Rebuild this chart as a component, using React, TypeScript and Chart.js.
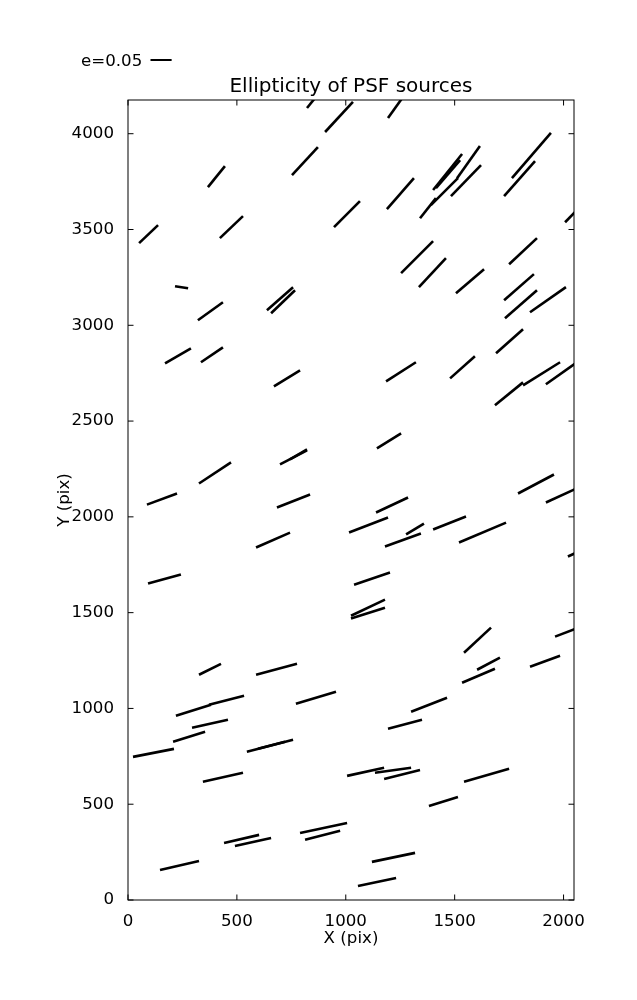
import React, { useEffect, useRef } from 'react';
import { Chart, registerables } from 'chart.js';

Chart.register(...registerables);

// Segment endpoints (pixels of CCD): start x/y and end x/y
const segX0 = [
  822, 905, 1194, 367, 753, 51, 422, 946, 216, 638,
  657, 1763, 1727, 1401, 1414, 1511, 1483, 1391, 1341, 1189,
  2007, 1254, 1336, 1750, 1506, 1727, 1731, 1846, 1690, 1185,
  1479, 1814, 1919, 1685, 1143, 1791, 1919, 321, 170, 335,
  670, 326, 698, 744, 87, 684, 588, 92, 326, 588,
  1139, 1015, 1277, 1180, 1401, 1520, 2020, 1038, 1024, 1024,
  1543, 1603, 1534, 1846, 1961, 220, 372, 771, 294, 207,
  23, 546, 597, 344, 441, 491, 790, 813, 147, 1300,
  1194, 1006, 1134, 1176, 1543, 1382, 1120, 1056,
];
const segY0 = [
  4134, 4009, 4082, 3721, 3784, 3429, 3455, 3512, 3204, 3078,
  3063, 3768, 3674, 3706, 3716, 3768, 3674, 3627, 3559, 3606,
  3538, 3272, 3199, 3319, 3167, 3131, 3037, 3068, 2854, 2707,
  2723, 2686, 2692, 2582, 2357, 2122, 2075, 3026, 2801, 2807,
  2681, 2174, 2274, 2300, 2064, 2049, 1840, 1652, 1176, 1176,
  2023, 1918, 1908, 1845, 1934, 1866, 1793, 1646, 1484, 1469,
  1291, 1202, 1134, 1218, 1375, 962, 1019, 1024, 899, 826,
  747, 774, 789, 617, 298, 282, 350, 314, 157, 983,
  894, 648, 664, 632, 617, 491, 199, 73,
];
const segX1 = [
  863, 1033, 1263, 445, 872, 138, 528, 1065, 276, 758,
  767, 1942, 1869, 1534, 1525, 1616, 1621, 1515, 1414, 1313,
  2080, 1401, 1460, 1878, 1635, 1864, 1878, 2011, 1814, 1322,
  1593, 1984, 2080, 1814, 1254, 1956, 2080, 436, 289, 436,
  790, 473, 822, 822, 225, 836, 744, 243, 427, 776,
  1286, 1194, 1359, 1345, 1552, 1736, 2121, 1203, 1180, 1180,
  1667, 1708, 1685, 1984, 2080, 381, 533, 955, 459, 354,
  211, 758, 721, 528, 602, 657, 1006, 974, 326, 1465,
  1350, 1176, 1300, 1341, 1750, 1515, 1318, 1231,
];
const segY1 = [
  4192, 4166, 4192, 3831, 3930, 3523, 3570, 3648, 3193, 3199,
  3183, 4004, 3857, 3894, 3862, 3936, 3836, 3768, 3664, 3768,
  3622, 3439, 3350, 3455, 3293, 3267, 3183, 3199, 2979, 2807,
  2838, 2807, 2822, 2702, 2436, 2221, 2159, 3120, 2880, 2885,
  2765, 2284, 2347, 2352, 2122, 2117, 1918, 1699, 1233, 1233,
  2101, 1997, 1965, 1913, 2002, 1970, 1845, 1709, 1568, 1526,
  1422, 1265, 1207, 1275, 1427, 1019, 1066, 1087, 941, 878,
  789, 836, 826, 664, 340, 324, 402, 361, 204, 1056,
  941, 690, 690, 679, 685, 538, 246, 115,
];

const xTickValues = [0, 500, 1000, 1500, 2000];
const yTickValues = [0, 500, 1000, 1500, 2000, 2500, 3000, 3500, 4000];
const X_MAX = 2048;
const Y_MAX = 4176;
const keyLabel = 'e=0.05';
const keyLength = 97; // key segment length in x data units

const FONT = 'DejaVu Sans';

export default function App() {
  const ref = useRef<HTMLCanvasElement>(null);

  useEffect(() => {
    const canvas = ref.current;
    if (!canvas) return;

    const datasets = segX0.map((x0, i) => ({
      data: [
        { x: x0, y: segY0[i] },
        { x: segX1[i], y: segY1[i] },
      ],
      borderColor: '#000',
      borderWidth: 2.6,
      borderCapStyle: 'butt' as const,
      pointRadius: 0,
      pointHoverRadius: 0,
      fill: false,
      tension: 0,
      clip: 0,
    }));

    const framePlugin = {
      id: 'frameTicks',
      afterDatasetsDraw(chart: any) {
        const { ctx, chartArea } = chart;
        const { left, right, top, bottom } = chartArea;
        const xs = chart.scales.x;
        const ys = chart.scales.y;
        ctx.save();
        ctx.strokeStyle = '#000';
        ctx.lineWidth = 1;
        ctx.strokeRect(left, top, right - left, bottom - top);
        const tl = 5.5;
        ctx.beginPath();
        xTickValues.forEach((v) => {
          const px = xs.getPixelForValue(v);
          ctx.moveTo(px, bottom);
          ctx.lineTo(px, bottom - tl);
          ctx.moveTo(px, top);
          ctx.lineTo(px, top + tl);
        });
        yTickValues.forEach((v) => {
          const py = ys.getPixelForValue(v);
          ctx.moveTo(left, py);
          ctx.lineTo(left + tl, py);
          ctx.moveTo(right, py);
          ctx.lineTo(right - tl, py);
        });
        ctx.stroke();
        ctx.restore();
      },
      afterDraw(chart: any) {
        const { ctx } = chart;
        const xs = chart.scales.x;
        ctx.save();
        ctx.fillStyle = '#000';
        ctx.font = `16.67px "${FONT}"`;
        ctx.textBaseline = 'alphabetic';
        ctx.textAlign = 'left';
        ctx.fillText(keyLabel, 81, 65.5);
        const len = xs.getPixelForValue(keyLength) - xs.getPixelForValue(0);
        ctx.strokeStyle = '#000';
        ctx.lineWidth = 2;
        ctx.beginPath();
        ctx.moveTo(150.5, 60);
        ctx.lineTo(150.5 + len, 60);
        ctx.stroke();
        ctx.restore();
      },
    };

    const tickFont = { family: FONT, size: 16.67, lineHeight: 1.2 };

    const chart = new Chart(canvas, {
      type: 'line',
      data: { datasets } as any,
      options: {
        animation: false,
        responsive: false,
        devicePixelRatio: 1,
        events: [],
        layout: { padding: { top: 75, right: 63, bottom: 0, left: 0 } },
        plugins: {
          legend: { display: false },
          tooltip: { enabled: false },
          title: {
            display: true,
            text: 'Ellipticity of PSF sources',
            fullSize: false,
            color: '#000',
            font: { family: FONT, size: 20, weight: 'normal', lineHeight: 1.2 },
            padding: { top: 0, bottom: 1 },
          },
        },
        scales: {
          x: {
            type: 'linear',
            min: 0,
            max: X_MAX,
            afterBuildTicks: (s: any) => {
              s.ticks = xTickValues.map((v) => ({ value: v }));
            },
            afterFit: (s: any) => {
              s.height = 100;
            },
            grid: { display: false },
            border: { display: false },
            ticks: {
              color: '#000',
              font: tickFont,
              padding: 4,
              maxRotation: 0,
              autoSkip: false,
              callback: (v: any) => String(v),
            },
            title: {
              display: true,
              text: 'X (pix)',
              color: '#000',
              font: tickFont,
              padding: { top: 0, bottom: 51 },
            },
          },
          y: {
            type: 'linear',
            min: 0,
            max: Y_MAX,
            afterBuildTicks: (s: any) => {
              s.ticks = yTickValues.map((v) => ({ value: v }));
            },
            afterFit: (s: any) => {
              s.width = 128;
            },
            grid: { display: false },
            border: { display: false },
            ticks: {
              color: '#000',
              font: tickFont,
              padding: 6,
              autoSkip: false,
              callback: (v: any) => String(v),
            },
            title: {
              display: true,
              text: 'Y (pix)',
              color: '#000',
              font: tickFont,
              padding: { top: 55, bottom: 0 },
            },
          },
        },
      } as any,
      plugins: [framePlugin],
    });

    return () => chart.destroy();
  }, []);

  return (
    <div style={{ position: 'absolute', left: 0, top: 0, width: 637, height: 1000, background: '#fff' }}>
      <canvas ref={ref} width={637} height={1000} style={{ display: 'block', width: 637, height: 1000 }} />
    </div>
  );
}
